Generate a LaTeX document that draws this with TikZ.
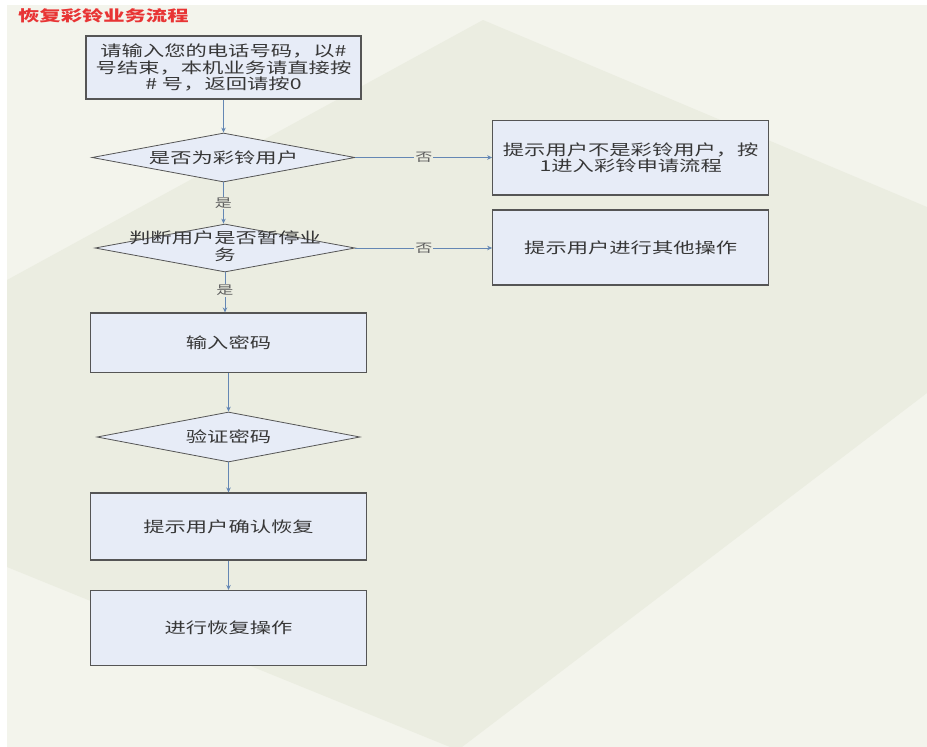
\documentclass[tikz,border=0pt]{standalone}
\usepackage{fontspec}
\newfontfamily\cjk[FakeStretch=1.42]{Noto Sans CJK SC}
\usetikzlibrary{shapes.geometric,arrows.meta}
\definecolor{bgA}{RGB}{243,244,236}
\definecolor{bgB}{RGB}{235,237,225}
\definecolor{boxc}{RGB}{231,236,247}
\definecolor{bordc}{RGB}{85,85,85}
\definecolor{connc}{RGB}{100,135,180}
\definecolor{txtc}{RGB}{55,55,55}
\definecolor{titlec}{RGB}{232,52,52}
\begin{document}
\begin{tikzpicture}[x=1pt,y=-1pt,
  proc/.style={rectangle, draw=bordc, line width=1.1pt, fill=boxc, inner sep=0pt,
    minimum width=276pt, align=center, text=txtc,
    font=\cjk\fontsize{15}{16.5}\selectfont},
  dia/.style={diamond, draw=bordc, line width=0.8pt, fill=boxc, inner sep=0pt},
  diatext/.style={align=center, text=txtc, inner sep=0pt,
    font=\cjk\fontsize{15}{16.5}\selectfont},
  conn/.style={draw=connc, line width=0.9pt, -{Stealth[length=5pt,width=4.5pt]}},
  lbl/.style={fill=bgB, inner sep=1pt, text=txtc!80,
    font=\cjk\fontsize{12}{13}\selectfont},
]
\useasboundingbox (0,0) rectangle (927,747);
\fill[white] (0,0) rectangle (927,747);
\fill[bgA] (7,5) rectangle (927,747);
\fill[bgB] (7,280) -- (483,20) -- (927,207) -- (927,393) -- (462,747) -- (450,747) -- (7,567) -- cycle;

\node[anchor=west, text=titlec, inner sep=0pt, font=\cjk\fontsize{15}{16}\selectfont\bfseries] (title) at (18,16) {恢复彩铃业务流程};

\node[proc, minimum width=275pt, minimum height=63pt] (b1) at (223.5,67.5)
  {请输入您的电话号码，以\#\\号结束，本机业务请直接按\\\# 号，返回请按0};

\node[dia, minimum width=263pt, minimum height=49pt] (d1) at (223.5,157.5) {};
\node[diatext] (d1t) at (d1) {是否为彩铃用户};

\node[dia, minimum width=260pt, minimum height=48pt] (d2) at (225,248) {};
\node[diatext] (d2t) at (225,246) {判断用户是否暂停业\\务};

\node[proc, minimum height=59.5pt] (pw) at (228.5,342.75) {输入密码};

\node[dia, minimum width=263pt, minimum height=50pt] (d3) at (228.5,437) {};
\node[diatext] (d3t) at (d3) {验证密码};

\node[proc, minimum height=67pt] (cf) at (228.5,526.5) {提示用户确认恢复};
\node[proc, minimum height=75pt] (rs) at (228.5,628) {进行恢复操作};

\node[proc, minimum height=74.5pt] (r1) at (630.7,157.75) {提示用户不是彩铃用户，按\\1进入彩铃申请流程};
\node[proc, minimum height=75pt] (r2) at (630.7,247.5) {提示用户进行其他操作};

\draw[conn] (b1.south) -- (d1.north);
\draw[conn] (d1.south) -- node[lbl] {是} (d1.south |- d2.north);
\draw[conn] (d2.south) -- node[lbl, pos=0.45] {是} (d2.south |- pw.north);
\draw[conn] (pw.south) -- (d3.north);
\draw[conn] (d3.south) -- (cf.north);
\draw[conn] (cf.south) -- (rs.north);
\draw[conn] (d1.east) -- node[lbl] {否} (d1.east -| r1.west);
\draw[conn] (d2.east) -- node[lbl] {否} (d2.east -| r2.west);
\end{tikzpicture}
\end{document}
